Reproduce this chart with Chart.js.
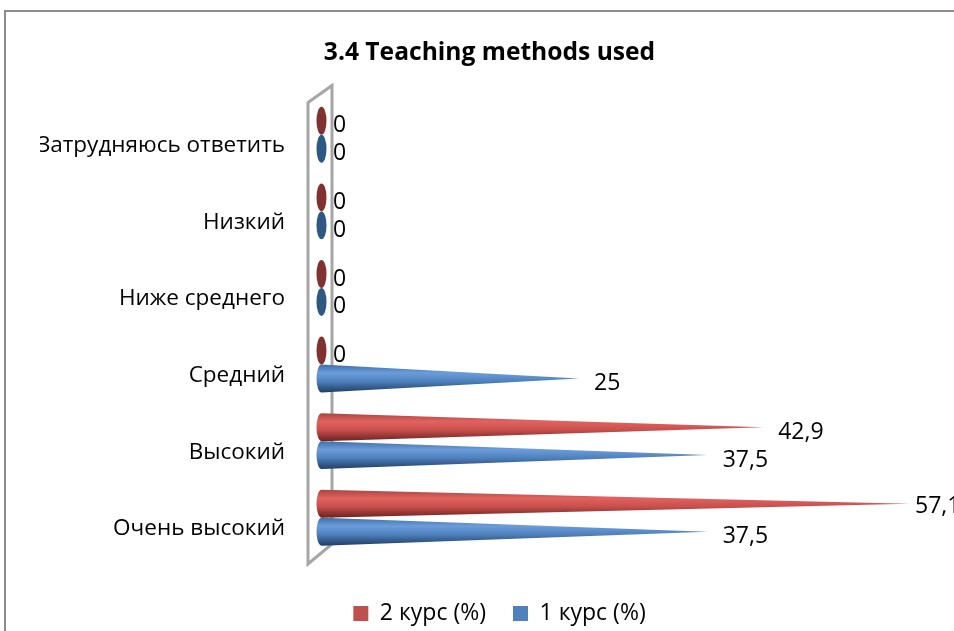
<!DOCTYPE html>
<html>
<head>
<meta charset="utf-8">
<title>3.4 Teaching methods used</title>
<script src="https://cdn.jsdelivr.net/npm/chart.js@4"></script>
<style>
    html, body { margin: 0; padding: 0; background: #fff; overflow: hidden; }
    canvas { display: block; }
</style>
</head>
<body>
<canvas id="coneChart" width="954" height="631"></canvas>
<script>
const chartTitle = '3.4 Teaching methods used';
const categories = ['Затрудняюсь ответить', 'Низкий', 'Ниже среднего', 'Средний', 'Высокий', 'Очень высокий'];
const seriesNames = ['2 курс (%)', '1 курс (%)'];
const course2Values = [0, 0, 0, 0, 42.9, 57.1];
const course1Values = [0, 0, 0, 25, 37.5, 37.5];

const FONT = '"Open Sans", "Noto Sans", sans-serif';

// gradient stops for the cones, top to bottom
const coneShades = [
    { legend: '#c0504d', flat: '#7f3230', stops: ['#a84542', '#e2625f', '#c9504d', '#6b2220'] },
    { legend: '#4f81bd', flat: '#2f5784', stops: ['#3f6fa8', '#6c9ddb', '#4f81bd', '#1f3d63'] }
];

// Legend sits a bit lower and to the right of where Chart.js centres it
const legendShiftPlugin = {
    id: 'legendShift',
    afterLayout(chart) {
        chart.legend.left += 10;
        chart.legend.right += 10;
        chart.legend.top += 19;
        chart.legend.bottom += 19;
    }
};

// Grey outer frame and the thin 3D back wall behind the cones
const framePlugin = {
    id: 'frame',
    beforeDatasetsDraw(chart) {
        const { ctx, chartArea } = chart;
        const left = chartArea.left - 14;
        const right = chartArea.left + 10;
        ctx.save();
        ctx.strokeStyle = '#8c8c8c';
        ctx.lineWidth = 2;
        ctx.beginPath();
        ctx.moveTo(5, 631);
        ctx.lineTo(5, 11);
        ctx.lineTo(954, 11);
        ctx.stroke();

        ctx.strokeStyle = '#a6a6a6';
        ctx.lineWidth = 3;
        ctx.beginPath();
        ctx.moveTo(left, chartArea.top + 6);
        ctx.lineTo(right, chartArea.top - 11);
        ctx.lineTo(right, chartArea.bottom - 12);
        ctx.lineTo(left, chartArea.bottom + 8);
        ctx.closePath();
        ctx.stroke();
        ctx.restore();
    }
};

// Draw each bar as a cone lying on its side, with the value label at the tip
const conePlugin = {
    id: 'cones',
    beforeDatasetDraw(chart, args) {
        const { ctx } = chart;
        const shade = coneShades[args.index];
        const values = chart.data.datasets[args.index].data;
        const meta = chart.getDatasetMeta(args.index);

        meta.data.forEach((bar, i) => {
            const half = bar.height / 2;
            const baseX = bar.base - 0.5;
            ctx.save();
            ctx.beginPath();
            if (values[i] === 0) {
                ctx.ellipse(baseX, bar.y, 5, half, 0, 0, Math.PI * 2);
                ctx.fillStyle = shade.flat;
            } else {
                ctx.moveTo(baseX, bar.y - half);
                ctx.lineTo(bar.x, bar.y);
                ctx.lineTo(baseX, bar.y + half);
                ctx.ellipse(baseX, bar.y, 5, half, 0, Math.PI / 2, Math.PI * 1.5);
                ctx.closePath();
                const grad = ctx.createLinearGradient(0, bar.y - half, 0, bar.y + half);
                grad.addColorStop(0, shade.stops[0]);
                grad.addColorStop(0.3, shade.stops[1]);
                grad.addColorStop(0.6, shade.stops[2]);
                grad.addColorStop(1, shade.stops[3]);
                ctx.fillStyle = grad;
            }
            ctx.fill();
            ctx.restore();

            ctx.save();
            ctx.fillStyle = '#000';
            ctx.font = '23px ' + FONT;
            ctx.textBaseline = 'middle';
            // the longest label is pulled in towards the tip, as in the original
            const labelX = Math.min(bar.x + (values[i] === 0 ? 11 : 15), 915);
            ctx.fillText(String(values[i]).replace('.', ','), labelX, bar.y + (labelX === 915 ? 3 : 5));
            ctx.restore();
        });
        return false;
    }
};

new Chart(document.getElementById('coneChart'), {
    type: 'bar',
    data: {
        labels: categories,
        datasets: [
            { label: seriesNames[0], data: course2Values, backgroundColor: coneShades[0].legend, borderWidth: 0 },
            { label: seriesNames[1], data: course1Values, backgroundColor: coneShades[1].legend, borderWidth: 0 }
        ]
    },
    options: {
        indexAxis: 'y',
        responsive: false,
        animation: false,
        categoryPercentage: 0.73,
        barPercentage: 1,
        layout: { padding: { left: 40, right: 15, top: 0, bottom: 15 } },
        scales: {
            x: { display: false, min: 0, max: 60 },
            y: {
                afterFit: (scale) => { scale.width = 282; },
                grid: { display: false },
                border: { display: false },
                ticks: {
                    color: '#000',
                    font: { family: FONT, size: 22.5 },
                    padding: 29,
                    labelOffset: 11,
                    autoSkip: false
                }
            }
        },
        plugins: {
            title: {
                display: true,
                text: chartTitle,
                color: '#000',
                font: { family: FONT, size: 24.6, weight: 'bold' },
                padding: { top: 38, bottom: 29 }
            },
            legend: {
                position: 'bottom',
                labels: {
                    color: '#000',
                    boxWidth: 15,
                    boxHeight: 15,
                    padding: 27,
                    font: { family: FONT, size: 23 }
                }
            },
            tooltip: { enabled: false }
        }
    },
    plugins: [legendShiftPlugin, framePlugin, conePlugin]
});
</script>
</body>
</html>
